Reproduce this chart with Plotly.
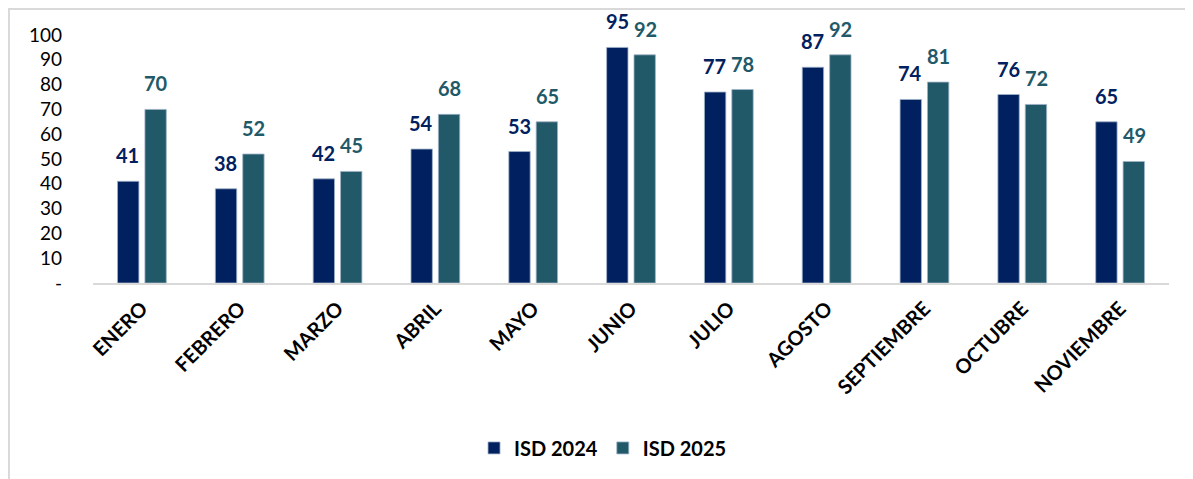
import plotly.graph_objects as go

months = ["ENERO", "FEBRERO", "MARZO", "ABRIL", "MAYO", "JUNIO", "JULIO",
          "AGOSTO", "SEPTIEMBRE", "OCTUBRE", "NOVIEMBRE"]
isd_2024 = [41, 38, 42, 54, 53, 95, 77, 87, 74, 76, 65]
isd_2025 = [70, 52, 45, 68, 65, 92, 78, 92, 81, 72, 49]
y_tickvals = [0, 10, 20, 30, 40, 50, 60, 70, 80, 90, 100]
y_ticktext = ["-", "10", "20", "30", "40", "50", "60", "70", "80", "90", "100"]

C24 = "#002060"
C25 = "#215968"
FONT = "Lato"

fig = go.Figure()
fig.add_trace(go.Bar(name="ISD 2024", x=months, y=isd_2024,
                     marker=dict(color=C24, line=dict(color="#9fb3c8", width=0.8))))
fig.add_trace(go.Bar(name="ISD 2025", x=months, y=isd_2025,
                     marker=dict(color=C25, line=dict(color="#9fb3c8", width=0.8))))

annotations = []
for m, v in zip(months, isd_2024):
    annotations.append(dict(x=m, y=v, xref="x", yref="y", text=f"<b>{v}</b>",
                            showarrow=False, xanchor="center", yanchor="bottom",
                            xshift=-14, yshift=12,
                            font=dict(family=FONT, size=20, color=C24)))
for m, v in zip(months, isd_2025):
    annotations.append(dict(x=m, y=v, xref="x", yref="y", text=f"<b>{v}</b>",
                            showarrow=False, xanchor="center", yanchor="bottom",
                            xshift=14, yshift=12,
                            font=dict(family=FONT, size=20, color=C25)))

fig.update_layout(
    width=1193, height=479,
    margin=dict(l=85, r=32, t=27, b=204, autoexpand=False),
    paper_bgcolor="white", plot_bgcolor="white",
    barmode="group", bargap=0.44, bargroupgap=0.22,
    font=dict(family=FONT, color="#000000"),
    annotations=annotations,
    legend=dict(orientation="h", x=0.474, xanchor="center", y=-0.665, yanchor="middle",
                font=dict(family=FONT, size=20, color="#000000", weight="bold"),
                itemwidth=30, traceorder="normal"),
    shapes=[dict(type="rect", xref="paper", yref="paper",
                 x0=-0.0781, x1=1.2, y0=-1.0, y1=1.1048,
                 line=dict(color="#d9d9d9", width=2), fillcolor="rgba(0,0,0,0)",
                 layer="below")],
)
fig.update_xaxes(showgrid=False, showline=True, linecolor="#d9d9d9", linewidth=2,
                 tickangle=-45, ticks="", automargin=False, ticklabelstandoff=4,
                 tickfont=dict(family=FONT, size=20, color="#000000", weight="bold"))
fig.update_yaxes(range=[0, 100], showgrid=False, showline=False, zeroline=False,
                 tickvals=y_tickvals, ticktext=y_ticktext, ticks="", automargin=False,
                 ticklabelstandoff=30,
                 tickfont=dict(family=FONT, size=19, color="#000000"))

fig.write_html("out.html")
